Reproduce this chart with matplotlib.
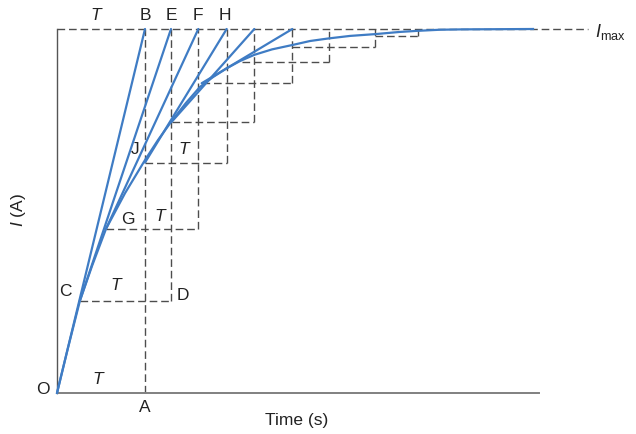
import matplotlib
matplotlib.use("Agg")
import matplotlib.pyplot as plt

plt.rcParams['font.family'] = ['Liberation Sans', 'DejaVu Sans']
plt.rcParams['mathtext.fontset'] = 'custom'
plt.rcParams['mathtext.rm'] = 'Liberation Sans'
plt.rcParams['mathtext.it'] = 'Liberation Sans:italic'

# ---- data (time in units of T, current as fraction of Imax) ----
curve_t = [0.0, 0.125, 0.261, 0.398, 0.557, 0.773, 1.0, 1.148, 1.303, 1.466,
           1.625, 1.773, 1.928, 2.080, 2.242, 2.443, 2.674, 2.875, 3.083,
           3.330, 3.619, 3.898, 4.102, 4.352, 4.614, 5.034, 5.409]
curve_i = [0.0, 0.124, 0.254, 0.349, 0.451, 0.549, 0.640, 0.695, 0.747, 0.797,
           0.841, 0.868, 0.892, 0.912, 0.929, 0.944, 0.956, 0.967, 0.974,
           0.981, 0.986, 0.992, 0.995, 0.998, 0.999, 0.9995, 1.0]

# construction points (start of each T-step) and time where each step reaches Imax
step_t = [0.0, 0.261, 0.557, 1.0, 1.303, 1.644, 2.099, 2.670, 3.619]
step_i = [0.0, 0.254, 0.451, 0.633, 0.745, 0.851, 0.910, 0.951, 0.982]
step_end = [1.0, 1.295, 1.606, 1.928, 2.242, 2.674, 3.091, 3.619, 4.106]
n_tangents = 6  # tangent lines drawn from the first six points

imax_line_end = 6.034
x_max = 5.477

W, H = 636, 434
fig = plt.figure(figsize=(W / 100, H / 100), dpi=100)
x0, x1, y0, y1 = 57, 539, 393, 29
ax = fig.add_axes([x0 / W, 1 - y0 / H, (x1 - x0) / W, (y0 - y1) / H])
ax.set_xlim(0, x_max)
ax.set_ylim(0, 1)
ax.set_xticks([])
ax.set_yticks([])
for s in ('top', 'right'):
    ax.spines[s].set_visible(False)
ax.spines['left'].set_color('#555555')
ax.spines['left'].set_linewidth(1.0)
ax.spines['bottom'].set_color('#808080')
ax.spines['bottom'].set_linewidth(1.4)

dash_kw = dict(color='#4d4d4d', lw=1.0, linestyle=(0, (5.5, 2.8)), clip_on=False, zorder=2)

# Imax line
ax.plot([0, imax_line_end], [1, 1], **dash_kw)

# step dashed lines
for k, (t, i, e) in enumerate(zip(step_t, step_i, step_end)):
    if k > 0:
        ax.plot([t, e], [i, i], **dash_kw)
    ax.plot([e, e], [i, 1], **dash_kw)

blue = '#3f7cc4'
# tangent lines
for k in range(n_tangents):
    ax.plot([step_t[k], step_end[k]], [step_i[k], 1], color=blue, lw=1.6,
            solid_capstyle='round', zorder=3, clip_on=False)

# curve
ax.plot(curve_t, curve_i, color=blue, lw=1.6, zorder=3, clip_on=False)


def ftext(x, y, s, **kw):
    kw.setdefault('fontsize', 12.5)
    kw.setdefault('color', '#222222')
    fig.text(x / W, 1 - y / H, s, ha=kw.pop('ha', 'center'), va=kw.pop('va', 'center'), **kw)


it = dict(fontstyle='italic')
ftext(96, 16, 'T', **it)
ftext(145, 16, 'B')
ftext(171, 16, 'E')
ftext(197.5, 16, 'F')
ftext(225, 16, 'H')
ftext(135, 150, 'J')
ftext(184, 150, 'T', **it)
ftext(127.5, 220, 'G')
ftext(160, 216, 'T', **it)
ftext(65.5, 291, 'C')
ftext(116, 286, 'T', **it)
ftext(182.5, 295, 'D')
ftext(98, 379, 'T', **it)
ftext(42.5, 389.5, 'O')
ftext(144.5, 408, 'A')
ftext(297, 421, 'Time (s)')
ftext(19, 210, r'$I$ (A)', rotation=90)
ftext(595, 32, r'$I_{\mathrm{max}}$', ha='left', fontsize=13)

fig.savefig('out.png', dpi=100)
